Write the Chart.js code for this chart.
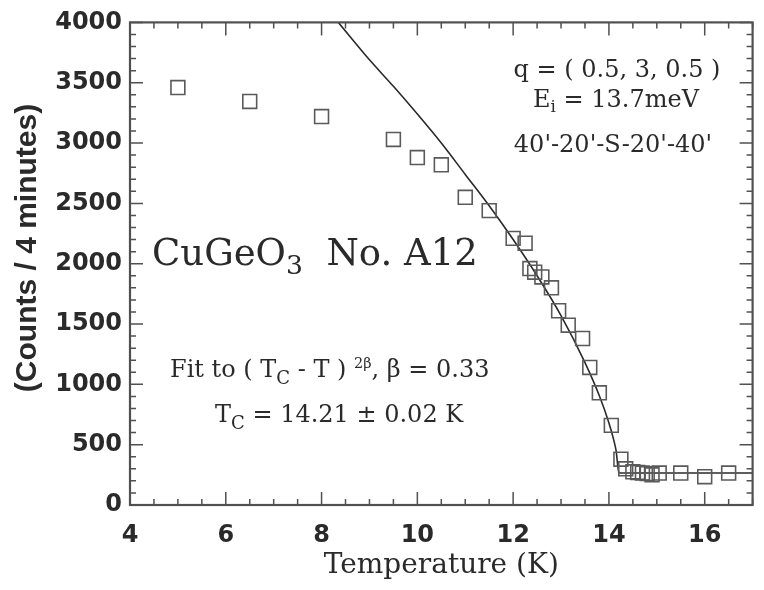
<!DOCTYPE html>
<html>
<head>
<meta charset="utf-8">
<script src="https://cdn.jsdelivr.net/npm/chart.js@4.4.0/dist/chart.umd.min.js"></script>
<style>
  html, body { margin: 0; padding: 0; background: #fff; }
  #wrap { width: 764px; height: 590px; }
</style>
</head>
<body>
<div id="wrap"><canvas id="chart"></canvas></div>
<script>
// Measured points (Temperature K, counts / 4 min)
const tempData  = [5.0, 6.5, 8.0, 9.5, 10.0, 10.5, 11.0, 11.5, 12.0, 12.25, 12.35, 12.45, 12.6, 12.8,
                   12.95, 13.15, 13.45, 13.6, 13.8, 14.05, 14.25, 14.35, 14.5, 14.6, 14.7, 14.8, 14.9,
                   15.05, 15.5, 16.0, 16.5];
const countData = [3460, 3345, 3220, 3030, 2880, 2820, 2550, 2440, 2210, 2170, 1960, 1930, 1890, 1800,
                   1610, 1490, 1380, 1140, 930, 660, 380, 300, 275, 270, 265, 260, 250,
                   265, 265, 235, 265];

// Fit curve
const fitTemp   = [8.35, 9.0, 9.5, 10.0, 10.5, 11.0, 11.5, 12.0, 12.5, 13.0, 13.5, 13.8, 14.0, 14.1,
                   14.15, 14.21, 14.5, 15.0, 16.0, 17.0];
const fitCounts = [4000, 3690, 3470, 3240, 3000, 2740, 2480, 2200, 1900, 1570, 1180, 905, 680, 540,
                   450, 265, 265, 265, 265, 265];

const xTicks = [4, 6, 8, 10, 12, 14, 16];
const yTicks = [0, 500, 1000, 1500, 2000, 2500, 3000, 3500, 4000];

const INK = '#2a2a2a';
const AXIS = '#505050';

// frame, inward ticks and text annotations
const decorPlugin = {
    id: 'decor',
    afterDatasetsDraw(chart) {
        const { ctx, chartArea: a, scales: { x, y } } = chart;
        ctx.save();
        ctx.strokeStyle = AXIS;
        ctx.lineWidth = 1.5;
        ctx.beginPath();
        for (let t = 4; t <= 17.001; t += 0.5) {
            const px = x.getPixelForValue(t);
            const len = (Math.abs(t % 2) < 1e-6) ? 13 : 6;
            ctx.moveTo(px, a.bottom); ctx.lineTo(px, a.bottom - len);
            ctx.moveTo(px, a.top); ctx.lineTo(px, a.top + len);
        }
        for (let v = 0; v <= 4000; v += 100) {
            const py = y.getPixelForValue(v);
            const len = (v % 500 === 0) ? 13 : 6;
            ctx.moveTo(a.left, py); ctx.lineTo(a.left + len, py);
            ctx.moveTo(a.right, py); ctx.lineTo(a.right - len, py);
        }
        ctx.stroke();
        ctx.lineWidth = 2.2;
        ctx.strokeRect(a.left, a.top, a.right - a.left, a.bottom - a.top);

        // y-axis title
        ctx.fillStyle = INK;
        ctx.save();
        ctx.translate(28, 248);
        ctx.rotate(-Math.PI / 2);
        ctx.font = "bold 30px 'Liberation Sans'";
        ctx.textAlign = 'center';
        ctx.textBaseline = 'middle';
        ctx.fillText('(Counts / 4 minutes)', 0, 0);
        ctx.restore();

        ctx.textBaseline = 'alphabetic';
        const serif = "'DejaVu Serif'";
        const rich = (parts, x0, y0, size, align) => {
            let w = 0;
            parts.forEach(p => {
                const s = p.s ? size * p.s : size;
                ctx.font = s + 'px ' + serif;
                p.w = ctx.measureText(p.t).width;
                p.size = s;
                w += p.w;
            });
            let cx = align === 'center' ? x0 - w / 2 : x0;
            ctx.textAlign = 'left';
            parts.forEach(p => {
                ctx.font = p.size + 'px ' + serif;
                ctx.fillText(p.t, cx, y0 + (p.dy || 0));
                cx += p.w;
            });
        };
        rich([{ t: 'CuGeO' }, { t: '3', s: 0.72, dy: 9 }, { t: '  No. A12' }], 152, 265, 37, 'left');
        rich([{ t: 'q = ( 0.5, 3, 0.5 )' }], 617, 77, 24, 'center');
        rich([{ t: 'E' }, { t: 'i', s: 0.7, dy: 5 }, { t: ' = 13.7meV' }], 616, 107, 24, 'center');
        rich([{ t: "40'-20'-S-20'-40'" }], 613, 152, 24, 'center');
        rich([{ t: 'Fit to ( T' }, { t: 'C', s: 0.75, dy: 7 }, { t: ' - T ) ' },
              { t: '2β', s: 0.6, dy: -9 }, { t: ', β = 0.33' }], 170, 377, 24, 'left');
        rich([{ t: 'T' }, { t: 'C', s: 0.75, dy: 7 }, { t: ' = 14.21 ± 0.02 K' }], 215, 422, 24, 'left');
        ctx.restore();
    }
};

new Chart(document.getElementById('chart'), {
    type: 'scatter',
    data: {
        datasets: [{
            label: 'data',
            data: tempData.map((t, i) => ({ x: t, y: countData[i] })),
            pointStyle: 'rect',
            pointRadius: 9.8,
            pointBackgroundColor: 'rgba(0,0,0,0)',
            pointBorderColor: '#5a5a5a',
            pointBorderWidth: 1.6,
            showLine: false
        }, {
            label: 'fit',
            data: fitTemp.map((t, i) => ({ x: t, y: fitCounts[i] })),
            showLine: true,
            borderColor: '#2a2a2a',
            borderWidth: 1.6,
            pointRadius: 0,
            cubicInterpolationMode: 'monotone'
        }]
    },
    options: {
        responsive: true,
        maintainAspectRatio: false,
        animation: false,
        layout: { padding: { top: 22, right: 4, left: 0, bottom: 0 } },
        plugins: {
            legend: { display: false },
            tooltip: { enabled: false }
        },
        scales: {
            x: {
                type: 'linear',
                min: 4,
                max: 17,
                afterBuildTicks: (s) => { s.ticks = xTicks.map(v => ({ value: v })); },
                afterFit: (s) => { s.height = 85; },
                grid: { display: false, drawTicks: false },
                border: { display: false },
                ticks: {
                    padding: 16,
                    color: INK,
                    callback: (v) => String(v),
                    font: { family: 'DejaVu Sans', size: 24, weight: 'bold' }
                },
                title: {
                    display: true,
                    text: 'Temperature (K)',
                    color: INK,
                    font: { family: 'DejaVu Serif', size: 28 },
                    padding: { top: 0, bottom: 7 }
                }
            },
            y: {
                type: 'linear',
                min: 0,
                max: 4000,
                afterBuildTicks: (s) => { s.ticks = yTicks.map(v => ({ value: v })); },
                afterFit: (s) => { s.width = 130; },
                grid: { display: false, drawTicks: false },
                border: { display: false },
                ticks: {
                    padding: 8,
                    color: INK,
                    callback: (v) => String(v),
                    font: { family: 'DejaVu Sans', size: 24, weight: 'bold' }
                }
            }
        }
    },
    plugins: [decorPlugin]
});
</script>
</body>
</html>
